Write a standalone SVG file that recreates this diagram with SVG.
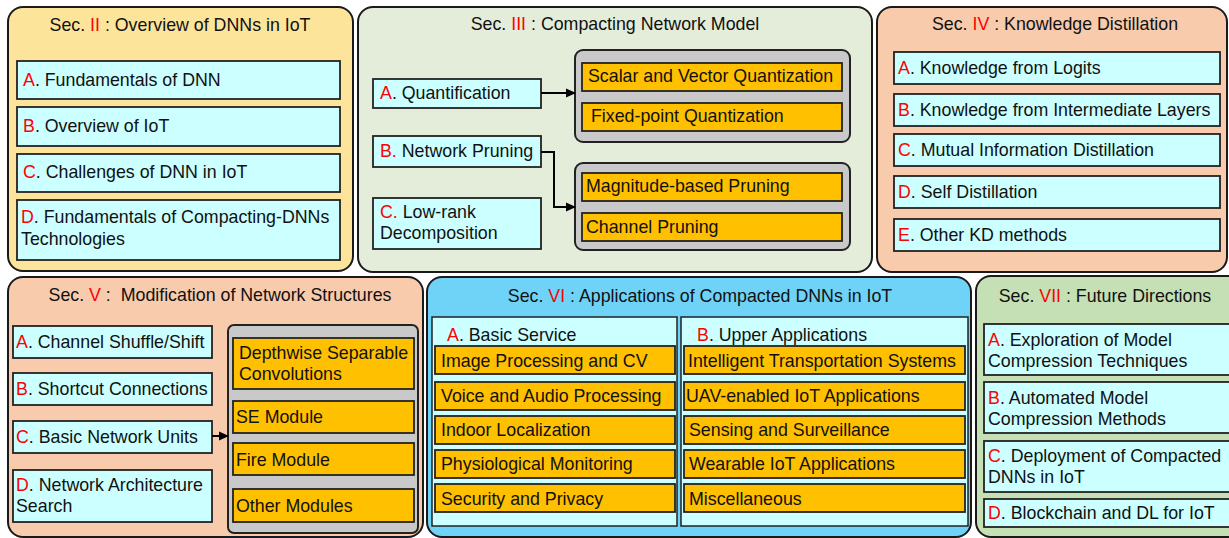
<svg xmlns="http://www.w3.org/2000/svg" width="1229" height="538" viewBox="0 0 1229 538">
<style>
text{font-family:"Liberation Sans",Arial,sans-serif;font-size:17.8px;fill:#111}
.r{fill:#ff0000}
.mid{text-anchor:middle}
.panel{stroke:#1a1a1a;stroke-width:2}
.cy{fill:#ccffff;stroke:#222;stroke-width:1.8}
.or{fill:#ffc000;stroke:#222;stroke-width:1.8}
.gr{fill:#c9c9c9;stroke:#222;stroke-width:2}
.conn{fill:none;stroke:#000;stroke-width:2}
</style>
<defs>
<marker id="ah" markerWidth="10" markerHeight="10" refX="9" refY="5" orient="auto" markerUnits="userSpaceOnUse">
<path d="M0,0.5 L10,5 L0,9.5 Z" fill="#000"/>
</marker>
</defs>
<rect width="1229" height="538" fill="#fff"/>

<g id="sec2">
<rect class="panel" x="8" y="7" width="345" height="264" rx="15" fill="#fde49b"/>
<text class="mid" x="180" y="31">Sec. <tspan class="r">II</tspan> : Overview of DNNs in IoT</text>
<g id="sec2-a"><rect class="cy" x="17" y="61" width="323" height="38"/><text x="23" y="86"><tspan class="r">A</tspan>. Fundamentals of DNN</text></g>
<g id="sec2-b"><rect class="cy" x="17" y="107" width="323" height="39"/><text x="23" y="132"><tspan class="r">B</tspan>. Overview of IoT</text></g>
<g id="sec2-c"><rect class="cy" x="17" y="154" width="323" height="38"/><text x="23" y="178"><tspan class="r">C</tspan>. Challenges of DNN in IoT</text></g>
<g id="sec2-d"><rect class="cy" x="17" y="200" width="323" height="60"/><text x="21" y="223"><tspan class="r">D</tspan>. Fundamentals of Compacting-DNNs</text><text x="21" y="245">Technologies</text></g>
</g>

<g id="sec3">
<rect class="panel" x="358" y="7" width="514" height="265" rx="15" fill="#e3edd9"/>
<text class="mid" x="615" y="30">Sec. <tspan class="r">III</tspan> : Compacting Network Model</text>
<g id="sec3-a"><rect class="cy" x="373" y="79" width="168" height="29"/><text x="380" y="99"><tspan class="r">A</tspan>. Quantification</text></g>
<g id="sec3-b"><rect class="cy" x="373" y="136" width="168" height="31"/><text x="380" y="157"><tspan class="r">B.</tspan> Network Pruning</text></g>
<g id="sec3-c"><rect class="cy" x="373" y="198" width="168" height="51"/><text x="380" y="218"><tspan class="r">C.</tspan> Low-rank</text><text x="380" y="239">Decomposition</text></g>
<g id="sec3-quant">
<rect class="gr" x="575" y="50" width="275" height="92" rx="8"/>
<g id="sec3-q1"><rect class="or" x="582" y="63" width="260" height="28"/><text x="588" y="82">Scalar and Vector Quantization</text></g>
<g id="sec3-q2"><rect class="or" x="582" y="103" width="260" height="28"/><text x="591" y="122">Fixed-point Quantization</text></g>
</g>
<g id="sec3-prune">
<rect class="gr" x="575" y="163" width="275" height="87" rx="8"/>
<g id="sec3-p1"><rect class="or" x="582" y="173" width="260" height="28"/><text x="586" y="192">Magnitude-based Pruning</text></g>
<g id="sec3-p2"><rect class="or" x="582" y="213" width="260" height="28"/><text x="586" y="233">Channel Pruning</text></g>
</g>
</g>

<g id="sec4">
<rect class="panel" x="877" y="7" width="350" height="265" rx="15" fill="#f8cbad"/>
<text class="mid" x="1055" y="30">Sec. <tspan class="r">IV</tspan> : Knowledge Distillation</text>
<g id="sec4-a"><rect class="cy" x="894" y="52" width="326" height="32"/><text x="898" y="74"><tspan class="r">A</tspan>. Knowledge from Logits</text></g>
<g id="sec4-b"><rect class="cy" x="894" y="94" width="326" height="32"/><text x="898" y="116"><tspan class="r">B</tspan>. Knowledge from Intermediate Layers</text></g>
<g id="sec4-c"><rect class="cy" x="894" y="134" width="326" height="32"/><text x="898" y="156"><tspan class="r">C</tspan>. Mutual Information Distillation</text></g>
<g id="sec4-d"><rect class="cy" x="894" y="176" width="326" height="32"/><text x="898" y="198"><tspan class="r">D</tspan>. Self Distillation</text></g>
<g id="sec4-e"><rect class="cy" x="894" y="219" width="326" height="32"/><text x="898" y="241"><tspan class="r">E</tspan>. Other KD methods</text></g>
</g>

<g id="sec5">
<rect class="panel" x="8" y="277" width="415" height="260" rx="15" fill="#f8cbad"/>
<text class="mid" x="220" y="301" xml:space="preserve">Sec. <tspan class="r">V</tspan> :  Modification of Network Structures</text>
<g id="sec5-a"><rect class="cy" x="13" y="326" width="199" height="32"/><text x="16" y="348"><tspan class="r">A</tspan>. Channel Shuffle/Shift</text></g>
<g id="sec5-b"><rect class="cy" x="13" y="373" width="199" height="32"/><text x="16" y="395"><tspan class="r">B</tspan>. Shortcut Connections</text></g>
<g id="sec5-c"><rect class="cy" x="13" y="421" width="199" height="32"/><text x="16" y="443"><tspan class="r">C</tspan>. Basic Network Units</text></g>
<g id="sec5-d"><rect class="cy" x="13" y="470" width="199" height="52"/><text x="16" y="491"><tspan class="r">D</tspan>. Network Architecture</text><text x="16" y="512">Search</text></g>
<g id="sec5-mods">
<rect class="gr" x="228" y="325" width="190" height="208" rx="6"/>
<g id="sec5-m1"><rect class="or" x="233" y="338" width="181" height="51"/><text x="239" y="359">Depthwise Separable</text><text x="239" y="380">Convolutions</text></g>
<g id="sec5-m2"><rect class="or" x="233" y="401" width="181" height="32"/><text x="236" y="423">SE Module</text></g>
<g id="sec5-m3"><rect class="or" x="233" y="443" width="181" height="32"/><text x="236" y="466">Fire Module</text></g>
<g id="sec5-m4"><rect class="or" x="233" y="489" width="181" height="33"/><text x="236" y="512">Other Modules</text></g>
</g>
</g>

<g id="sec6">
<rect class="panel" x="427" y="277" width="544" height="260" rx="15" fill="#6fd3f7"/>
<text class="mid" x="700" y="302">Sec. <tspan class="r">VI</tspan> : Applications of Compacted DNNs in IoT</text>
<g id="sec6-a">
<rect x="432" y="317" width="245" height="209" fill="#ccffff" stroke="#222" stroke-width="1.5"/>
<text x="447" y="341"><tspan class="r">A</tspan>. Basic Service</text>
<g id="sec6-a1"><rect class="or" x="435" y="346" width="240" height="28"/><text x="441" y="367">Image Processing and CV</text></g>
<g id="sec6-a2"><rect class="or" x="435" y="382" width="240" height="28"/><text x="441" y="402">Voice and Audio Processing</text></g>
<g id="sec6-a3"><rect class="or" x="435" y="416" width="240" height="28"/><text x="441" y="436">Indoor Localization</text></g>
<g id="sec6-a4"><rect class="or" x="435" y="450" width="240" height="28"/><text x="441" y="470">Physiological Monitoring</text></g>
<g id="sec6-a5"><rect class="or" x="435" y="484" width="240" height="28"/><text x="441" y="505">Security and Privacy</text></g>
</g>
<g id="sec6-b">
<rect x="681" y="317" width="287" height="209" fill="#ccffff" stroke="#222" stroke-width="1.5"/>
<text x="697" y="341"><tspan class="r">B</tspan>. Upper Applications</text>
<g id="sec6-b1"><rect class="or" x="684" y="346" width="281" height="28"/><text x="688" y="367">Intelligent Transportation Systems</text></g>
<g id="sec6-b2"><rect class="or" x="684" y="382" width="281" height="28"/><text x="686" y="402">UAV-enabled IoT Applications</text></g>
<g id="sec6-b3"><rect class="or" x="684" y="416" width="281" height="28"/><text x="689" y="436">Sensing and Surveillance</text></g>
<g id="sec6-b4"><rect class="or" x="684" y="450" width="281" height="28"/><text x="689" y="470">Wearable IoT Applications</text></g>
<g id="sec6-b5"><rect class="or" x="684" y="484" width="281" height="28"/><text x="689" y="505">Miscellaneous</text></g>
</g>
</g>

<g id="sec7">
<rect class="panel" x="976" y="276" width="270" height="261" rx="15" fill="#c5e0b4"/>
<text class="mid" x="1105" y="302">Sec. <tspan class="r">VII</tspan> : Future Directions</text>
<g id="sec7-a"><rect class="cy" x="984" y="324" width="260" height="51"/><text x="988" y="346"><tspan class="r">A</tspan>. Exploration of Model</text><text x="988" y="367">Compression Techniques</text></g>
<g id="sec7-b"><rect class="cy" x="984" y="382" width="260" height="51"/><text x="988" y="404"><tspan class="r">B</tspan>. Automated Model</text><text x="988" y="425">Compression Methods</text></g>
<g id="sec7-c"><rect class="cy" x="984" y="441" width="260" height="51"/><text x="988" y="462"><tspan class="r">C</tspan>. Deployment of Compacted</text><text x="988" y="483">DNNs in IoT</text></g>
<g id="sec7-d"><rect class="cy" x="984" y="499" width="260" height="28"/><text x="988" y="519"><tspan class="r">D</tspan>. Blockchain and DL for IoT</text></g>
</g>

<g id="connectors">
<path class="conn" d="M541,93 H575" marker-end="url(#ah)"/>
<path class="conn" d="M541,152 H554 V207 H575" marker-end="url(#ah)"/>
<path class="conn" d="M212,436 H228" marker-end="url(#ah)"/>
</g>
</svg>
